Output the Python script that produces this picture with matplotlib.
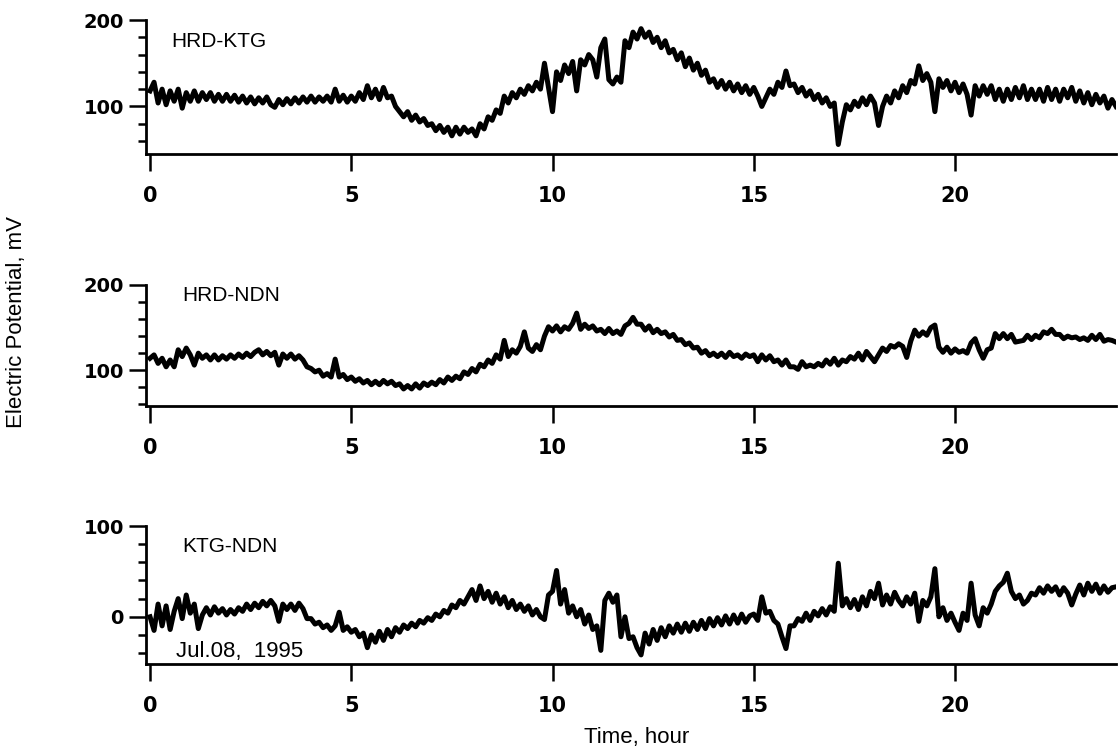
import matplotlib
matplotlib.use("Agg")
import matplotlib.pyplot as plt
from matplotlib.ticker import FixedLocator
import numpy as np

# Sampling grid: one value every 0.1 hour over the day
hours = np.round(np.arange(241) * 0.1, 1)

# HRD-KTG potential difference (mV), one row per hour
hrd_ktg = [
    118, 128, 104, 120, 102, 118, 106, 120, 98, 116,
    106, 118, 106, 116, 108, 116, 106, 114, 106, 114,
    106, 113, 105, 112, 104, 111, 103, 110, 104, 111,
    102, 99, 108, 102, 109, 103, 110, 104, 111, 105,
    112, 105, 111, 106, 112, 105, 120, 106, 113, 105,
    112, 106, 116, 108, 124, 110, 120, 108, 122, 110,
    112, 100, 94, 88, 94, 84, 90, 82, 86, 78,
    80, 72, 78, 70, 76, 66, 76, 68, 76, 70,
    74, 66, 80, 74, 88, 84, 96, 92, 112, 104,
    116, 110, 120, 114, 124, 118, 128, 120, 150, 122,
    94, 140, 130, 148, 138, 152, 118, 154, 148, 160,
    154, 134, 168, 178, 131, 126, 134, 128, 176, 168,
    186, 178, 190, 180, 186, 174, 180, 168, 176, 162,
    166, 154, 162, 146, 156, 142, 150, 136, 142, 128,
    132, 122, 130, 120, 128, 118, 126, 116, 124, 114,
    122, 112, 100, 110, 120, 114, 128, 122, 141, 124,
    126, 116, 122, 112, 118, 108, 114, 104, 110, 100,
    104, 56, 82, 102, 96, 106, 100, 110, 102, 112,
    104, 78, 100, 112, 104, 118, 110, 124, 116, 130,
    126, 147, 130, 138, 128, 94, 132, 122, 130, 118,
    128, 116, 126, 114, 90, 124, 112, 124, 114, 124,
    108, 120, 106, 120, 108, 122, 110, 124, 108, 120,
    108, 120, 106, 122, 108, 120, 106, 120, 110, 122,
    106, 118, 104, 116, 102, 114, 104, 112, 98, 108,
    100,
]

# HRD-NDN potential difference (mV)
hrd_ndn = [
    114, 118, 108, 114, 104, 112, 104, 124, 116, 126,
    118, 106, 120, 114, 118, 112, 118, 112, 117, 113,
    118, 114, 119, 115, 120, 116, 121, 124, 118, 122,
    117, 121, 106, 119, 114, 119, 113, 117, 112, 104,
    102, 98, 100, 93, 96, 92, 113, 92, 95, 89,
    92, 87, 90, 85, 88, 83, 87, 83, 88, 84,
    87, 82, 84, 78, 82, 78, 84, 79, 85, 82,
    86, 83, 89, 85, 92, 88, 93, 90, 98, 95,
    102, 98, 107, 104, 112, 108, 118, 113, 135, 116,
    124, 120, 128, 145, 126, 122, 130, 124, 140, 151,
    146, 152, 145, 151, 148, 155, 167, 148, 154, 149,
    152, 146, 148, 143, 149, 143, 146, 142, 152, 155,
    162, 154, 154, 147, 152, 144, 148, 143, 145, 139,
    142, 135, 136, 130, 132, 126, 127, 120, 123, 117,
    120, 116, 120, 115, 121, 116, 118, 114, 119, 116,
    118, 110, 118, 112, 117, 110, 112, 106, 112, 104,
    104, 101, 110, 104, 106, 104, 108, 105, 112, 107,
    114, 106, 112, 110, 116, 113, 120, 112, 122, 116,
    110, 118, 126, 122, 129, 127, 131, 128, 115, 134,
    147, 140, 145, 141, 150, 153, 127, 121, 127, 120,
    125, 121, 123, 120, 132, 137, 124, 114, 124, 126,
    143, 137, 143, 137, 142, 133, 134, 135, 141, 136,
    141, 138, 145, 143, 148, 142, 142, 137, 140, 138,
    139, 136, 138, 135, 141, 136, 142, 134, 136, 135,
    133,
]

# KTG-NDN potential difference (mV)
ktg_ndn = [
    0, -15, 14, -10, 12, -14, 6, 20, -2, 24,
    4, 14, -13, 2, 10, 2, 11, 4, 9, 2,
    8, 3, 10, 6, 14, 8, 15, 10, 17, 12,
    18, 12, -5, 14, 8, 14, 7, 15, 9, -2,
    -2, -8, -6, -12, -9, -15, -10, 5, -15, -11,
    -17, -14, -22, -18, -34, -20, -28, -16, -26, -14,
    -22, -12, -17, -9, -13, -7, -11, -4, -7, -1,
    -4, 3, 0, 7, 4, 13, 10, 18, 14, 22,
    30, 18, 34, 20, 28, 16, 26, 14, 22, 10,
    18, 8, 14, 6, 12, 2, 8, 0, -3, 24,
    28, 51, 14, 30, 4, 12, 0, 8, -8, 2,
    -14, -10, -37, 18, 26, 16, 24, -22, 0, -24,
    -22, -34, -42, -18, -30, -14, -26, -12, -22, -10,
    -18, -8, -17, -7, -16, -6, -14, -4, -13, -2,
    -10, -1, -9, 1, -8, 2, -7, 3, -6, 1,
    3, -4, 22, 4, 6, -4, -8, -22, -35, -10,
    -10, -2, -5, 4, -4, 6, 1, 9, 2, 11,
    6, 59, 12, 20, 10, 19, 8, 22, 12, 28,
    20, 37, 13, 24, 14, 27, 18, 12, 22, 14,
    26, -5, 18, 12, 22, 53, 0, 10, -4, 4,
    -6, -15, 4, -4, 37, 2, -10, 10, 4, 14,
    28, 34, 38, 48, 28, 20, 24, 14, 18, 26,
    24, 32, 26, 34, 28, 33, 24, 32, 26, 13,
    25, 35, 24, 37, 28, 36, 26, 34, 27, 32,
    33,
]

station_pairs = ["HRD-KTG", "HRD-NDN", "KTG-NDN"]
x_ticks = [0, 5, 10, 15, 20]
x_tick_labels = ["0", "5", "10", "15", "20"]
y_major = [[100, 200], [100, 200], [0, 100]]
y_minor = [[60, 80, 120, 140, 160, 180],
           [60, 80, 120, 140, 160, 180],
           [-40, -20, 20, 40, 60, 80]]
y_limits = [(45, 200), (58, 200), (-52, 100)]
date_label = "Jul.08,  1995"

series = [hrd_ktg, hrd_ndn, ktg_ndn]

W, H = 1120, 752
fig = plt.figure(figsize=(W / 100, H / 100), dpi=100)

# panel boxes in pixel rows (top, bottom)
rows = [(20, 154), (285, 406), (526, 664)]
left_px, right_px = 146, 1116
label_pos = [(0.026, 0.836), (0.037, 0.917), (0.037, 0.855)]

tick_font = dict(family="DejaVu Sans", weight="bold")
text_font = "Liberation Sans"

axes = []
for i, (top, bot) in enumerate(rows):
    ax = fig.add_axes([left_px / W, 1 - bot / H, (right_px - left_px) / W, (bot - top) / H])
    axes.append(ax)
    ax.plot(hours, series[i], color="black", lw=3.6, solid_joinstyle="round")
    ax.set_xlim(-0.1, 24.0)
    ax.set_ylim(*y_limits[i])

    for side in ("top", "right"):
        ax.spines[side].set_visible(False)
    for side in ("left", "bottom"):
        ax.spines[side].set_linewidth(2.0)
        ax.spines[side].set_color("black")

    ax.xaxis.set_major_locator(FixedLocator(x_ticks))
    ax.set_xticklabels(x_tick_labels, fontsize=15, **tick_font)
    ax.yaxis.set_major_locator(FixedLocator(y_major[i]))
    ax.yaxis.set_minor_locator(FixedLocator(y_minor[i]))
    ax.set_yticklabels([str(v) for v in y_major[i]], fontsize=14, **tick_font)

    ax.tick_params(axis="x", which="major", direction="out", length=12, width=1.8, pad=11)
    ax.tick_params(axis="y", which="major", direction="out", length=12, width=1.8, pad=4)
    ax.tick_params(axis="y", which="minor", direction="out", length=6, width=1.8)

    ax.text(label_pos[i][0], label_pos[i][1], station_pairs[i], transform=ax.transAxes,
            ha="left", va="center", fontsize=15, family=text_font)

axes[2].text(0.031, 0.087, date_label, transform=axes[2].transAxes,
             ha="left", va="center", fontsize=16, family=text_font)

fig.text(637 / W, 1 - 737 / H, "Time, hour", ha="center", va="center",
         fontsize=16, family=text_font)
fig.text(17 / W, 1 - 322 / H, "Electric Potential, mV", ha="center", va="center",
         rotation=90, fontsize=16, family=text_font)

fig.savefig("out.png", dpi=100, facecolor="white")
